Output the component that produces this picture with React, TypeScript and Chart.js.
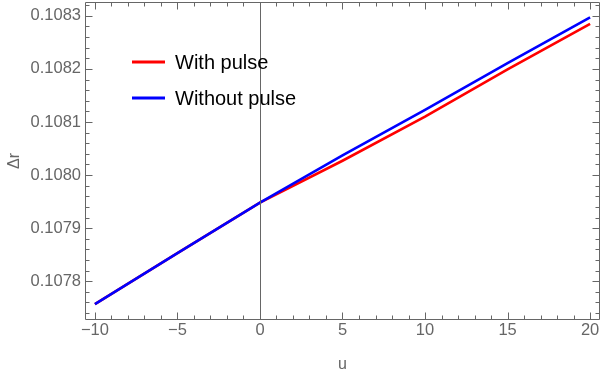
import React, { useEffect, useRef } from "react";
import { Chart, registerables } from "chart.js";

Chart.register(...registerables);

// ---- data ----
const uValues = [-10, -5, 0, 5, 10, 15, 20];
const withPulse = [0.107757, 0.107853, 0.107948, 0.108027, 0.10811, 0.108199, 0.108285];
const withoutPulse = [0.107757, 0.107853, 0.107948, 0.108037, 0.108123, 0.108211, 0.108297];
const seriesLabels = ["With pulse", "Without pulse"];
const seriesColors = ["#ff0000", "#0000ff"];
const xMajorTicks = [-10, -5, 0, 5, 10, 15, 20];
const yMajorTicks = [0.1078, 0.1079, 0.108, 0.1081, 0.1082, 0.1083];
const xTitle = "u";
const yTitle = "Δr";

const X_MIN = -10.6;
const X_MAX = 20.6;
const Y_MIN = 0.107727;
const Y_MAX = 0.108326;

const GRAY = "#666666";
const FONT = "'Liberation Sans', Arial, sans-serif";

const framePlugin = {
  id: "mmaFrame",
  afterDatasetsDraw(chart: any) {
    const { ctx, chartArea: a, scales } = chart;
    const xs = scales.x;
    const ys = scales.y;
    const L = a.left + 0.5;
    const R = a.right - 0.5;
    const T = a.top + 0.5;
    const B = a.bottom - 0.5;
    ctx.save();
    ctx.strokeStyle = GRAY;
    ctx.lineWidth = 1;
    const seg = (x1: number, y1: number, x2: number, y2: number) => {
      ctx.beginPath();
      ctx.moveTo(x1, y1);
      ctx.lineTo(x2, y2);
      ctx.stroke();
    };
    // vertical axis at u = 0
    const x0 = Math.round(xs.getPixelForValue(0)) + 0.5;
    seg(x0, T, x0, B);
    // frame
    seg(L, T, R, T);
    seg(L, B, R, B);
    seg(L, T, L, B);
    seg(R, T, R, B);
    // x ticks (major every 5, minor every 1)
    for (let v = Math.ceil(X_MIN); v <= Math.floor(X_MAX); v++) {
      const len = v % 5 === 0 ? 7 : 4;
      const px = Math.round(xs.getPixelForValue(v)) + 0.5;
      seg(px, B, px, B - len);
      seg(px, T, px, T + len);
    }
    // y ticks (major every 1e-4, minor every 2e-5)
    const k0 = Math.ceil(Y_MIN / 2e-5);
    const k1 = Math.floor(Y_MAX / 2e-5);
    for (let k = k0; k <= k1; k++) {
      const v = k * 2e-5;
      const len = k % 5 === 0 ? 7 : 4;
      const py = Math.round(ys.getPixelForValue(v)) + 0.5;
      seg(L, py, L + len, py);
      seg(R, py, R - len, py);
    }
    // axis titles
    ctx.fillStyle = GRAY;
    ctx.font = `16px ${FONT}`;
    ctx.textAlign = "center";
    ctx.textBaseline = "alphabetic";
    ctx.fillText(xTitle, (a.left + a.right) / 2, 369);
    ctx.save();
    ctx.translate(19, (a.top + a.bottom) / 2);
    ctx.rotate(-Math.PI / 2);
    ctx.fillText(yTitle, 0, 0);
    ctx.restore();
    // legend
    ctx.font = `20px ${FONT}`;
    ctx.textAlign = "left";
    ctx.fillStyle = "#000000";
    const rows = [62, 98];
    seriesLabels.forEach((lab, i) => {
      ctx.strokeStyle = seriesColors[i];
      ctx.lineWidth = 3;
      seg(132, rows[i], 165, rows[i]);
      ctx.fillText(lab, 175, rows[i] + 6.5);
    });
    ctx.restore();
  },
};

export default function App() {
  const ref = useRef<HTMLCanvasElement | null>(null);
  useEffect(() => {
    if (!ref.current) return;
    const toPts = (ys: number[]) => uValues.map((u, i) => ({ x: u, y: ys[i] }));
    const chart = new Chart(ref.current, {
      type: "line",
      data: {
        datasets: [
          {
            label: seriesLabels[1],
            data: toPts(withoutPulse),
            borderColor: seriesColors[1],
            borderWidth: 2.6,
            pointRadius: 0,
            fill: false,
            tension: 0,
          },
          {
            label: seriesLabels[0],
            data: toPts(withPulse),
            borderColor: seriesColors[0],
            borderWidth: 2.6,
            pointRadius: 0,
            fill: false,
            tension: 0,
          },
        ],
      },
      options: {
        responsive: false,
        animation: false,
        devicePixelRatio: 1,
        layout: { padding: { top: 2, right: 0, bottom: 0, left: 0 } },
        plugins: { legend: { display: false }, tooltip: { enabled: false } },
        scales: {
          x: {
            type: "linear",
            min: X_MIN,
            max: X_MAX,
            grid: { display: false, drawTicks: false },
            border: { display: false },
            afterBuildTicks: (s: any) => {
              s.ticks = xMajorTicks.map((v) => ({ value: v }));
            },
            afterFit: (s: any) => {
              s.height = 52;
              s.paddingLeft = 0;
              s.paddingRight = 0;
            },
            ticks: {
              color: GRAY,
              font: { family: FONT, size: 16.5 },
              padding: 1,
              maxRotation: 0,
              autoSkip: false,
              callback: (v: any) => String(v).replace("-", "\u2212"),
            },
          },
          y: {
            type: "linear",
            min: Y_MIN,
            max: Y_MAX,
            grid: { display: false, drawTicks: false },
            border: { display: false },
            afterBuildTicks: (s: any) => {
              s.ticks = yMajorTicks.map((v) => ({ value: v }));
            },
            afterFit: (s: any) => {
              s.width = 85;
              s.paddingTop = 0;
              s.paddingBottom = 0;
            },
            ticks: {
              color: GRAY,
              font: { family: FONT, size: 16.5 },
              padding: 4,
              autoSkip: false,
              callback: (v: any) => Number(v).toFixed(4),
            },
          },
        },
      },
      plugins: [framePlugin],
    } as any);
    return () => chart.destroy();
  }, []);
  return (
    <div style={{ position: "absolute", left: 0, top: 0, width: 600, height: 372, background: "#fff" }}>
      <canvas ref={ref} width={600} height={372} style={{ display: "block" }} />
    </div>
  );
}
